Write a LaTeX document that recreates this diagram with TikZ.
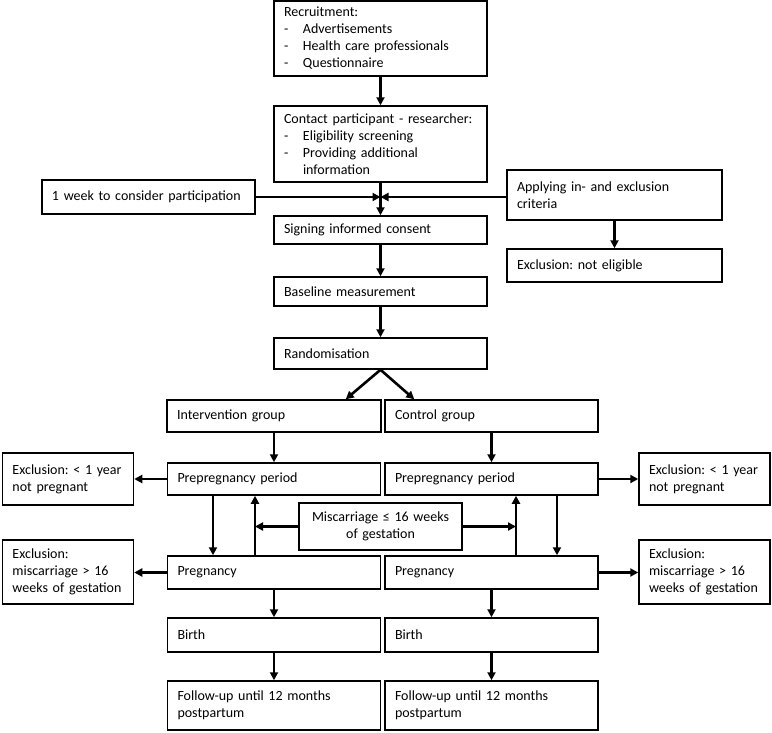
\documentclass[tikz,border=0pt]{standalone}
\usepackage{fontspec}
\setmainfont{Carlito}
\usetikzlibrary{arrows.meta}
\frenchspacing

\begin{document}
\begin{tikzpicture}[x=1pt,y=-1pt,>={Triangle[length=8pt,width=8pt]}]
    \tikzstyle{box}=[draw=black,line width=1.5pt,inner xsep=10pt,inner ysep=0pt,align=left,font=\fontsize{14}{17}\selectfont]
    \tikzstyle{arrow}=[->,line width=2.6pt]
    \useasboundingbox (0,0) rectangle (772,732);

    % main line
    \node[box,text width=193pt,minimum height=75pt] (rec) at (380.5,38.5)
        {Recruitment:\\\makebox[19pt][l]{-}Advertisements\\\makebox[19pt][l]{-}Health care professionals\\\makebox[19pt][l]{-}Questionnaire};
    \node[box,text width=193pt,minimum height=76pt] (con) at (380.5,144)
        {Contact participant - researcher:\\\makebox[19pt][l]{-}Eligibility screening\\\makebox[19pt][l]{-}Providing additional\\\hspace*{19pt}information};
    \node[box,text width=193pt,minimum height=34pt] (wk) at (148.5,197) {1 week to consider participation};
    \node[box,text width=195pt,minimum height=50pt] (app) at (614.5,195) {Applying in- and exclusion\\criteria};
    \node[box,text width=193pt,minimum height=28pt] (sig) at (380.5,230) {Signing informed consent};
    \node[box,text width=195pt,minimum height=33pt] (nel) at (614.5,265.5) {Exclusion: not eligible};
    \node[box,text width=193pt,minimum height=29pt] (base) at (380.5,291.5) {Baseline measurement};
    \node[box,text width=193pt,minimum height=31pt] (rand) at (380.5,353.5) {Randomisation};

    % groups
    \node[box,text width=194pt,minimum height=32pt] (int) at (274,416) {Intervention group};
    \node[box,text width=193pt,minimum height=32pt] (ctl) at (491.5,416) {Control group};
    \foreach \s/\x in {L/274, R/491.5} {
        \node[box,text width=193pt,minimum height=32pt] (pre-\s) at (\x,479) {Prepregnancy period};
        \node[box,text width=193pt,minimum height=33pt] (pg-\s) at (\x,572.5) {Pregnancy};
        \node[box,text width=193pt,minimum height=34pt] (bi-\s) at (\x,635) {Birth};
        \node[box,text width=193pt,minimum height=49pt] (fu-\s) at (\x,705.5) {Follow-up until 12 months\\postpartum};
        \draw[arrow] (pg-\s) -- (bi-\s);
        \draw[arrow] (bi-\s) -- (fu-\s);
    }
    \foreach \s/\x in {L/68, R/704.5} {
        \node[box,text width=111pt,minimum height=52pt] (exa-\s) at (\x,479) {Exclusion: < 1 year\\not pregnant};
        \node[box,text width=111pt,minimum height=64pt] (exb-\s) at (\x,572) {Exclusion:\\miscarriage > 16\\weeks of gestation};
    }
    \node[box,align=center,text width=143pt,minimum height=47pt] (mis) at (380.5,526.5) {Miscarriage ≤ 16 weeks\\of gestation};

    \draw[arrow] (rec) -- (con);
    \coordinate (meet) at (con.south |- wk.east);
    \draw[arrow] (con) -- (sig);
    \draw[arrow] (wk) -- (meet);
    \draw[arrow] (app.west |- meet) -- (meet);
    \draw[arrow] (app) -- (nel);
    \draw[arrow] (sig) -- (base);
    \draw[arrow] (base) -- (rand);
    \draw[arrow] (rand.south) -- ([xshift=-36pt]int.north east);
    \draw[arrow] (rand.south) -- ([xshift=30pt]ctl.north west);
    \draw[arrow] (int) -- (pre-L);
    \draw[arrow] (ctl) -- (pre-R);

    \draw[arrow] (pre-L.west) -- (pre-L.west -| exa-L.east);
    \draw[arrow] (pre-R.east) -- (pre-R.east -| exa-R.west);
    \draw[arrow] (pg-L.west) -- (pg-L.west -| exb-L.east);
    \draw[arrow] (pg-R.east) -- (pg-R.east -| exb-R.west);

    % back to prepregnancy after miscarriage
    \coordinate (up-L) at ([xshift=-19pt]pg-L.north);
    \coordinate (up-R) at ([xshift=24.5pt]pg-R.north);
    \draw[arrow] ([xshift=-61pt]pre-L.south) -- ([xshift=-61pt]pg-L.north);
    \draw[arrow] ([xshift=65.5pt]pre-R.south) -- ([xshift=65.5pt]pg-R.north);
    \draw[arrow] (up-L) -- (up-L |- pre-L.south);
    \draw[arrow] (up-R) -- (up-R |- pre-R.south);
    \draw[arrow] (mis.west) -- (mis.west -| up-L);
    \draw[arrow] (mis.east) -- (mis.east -| up-R);
\end{tikzpicture}
\end{document}
